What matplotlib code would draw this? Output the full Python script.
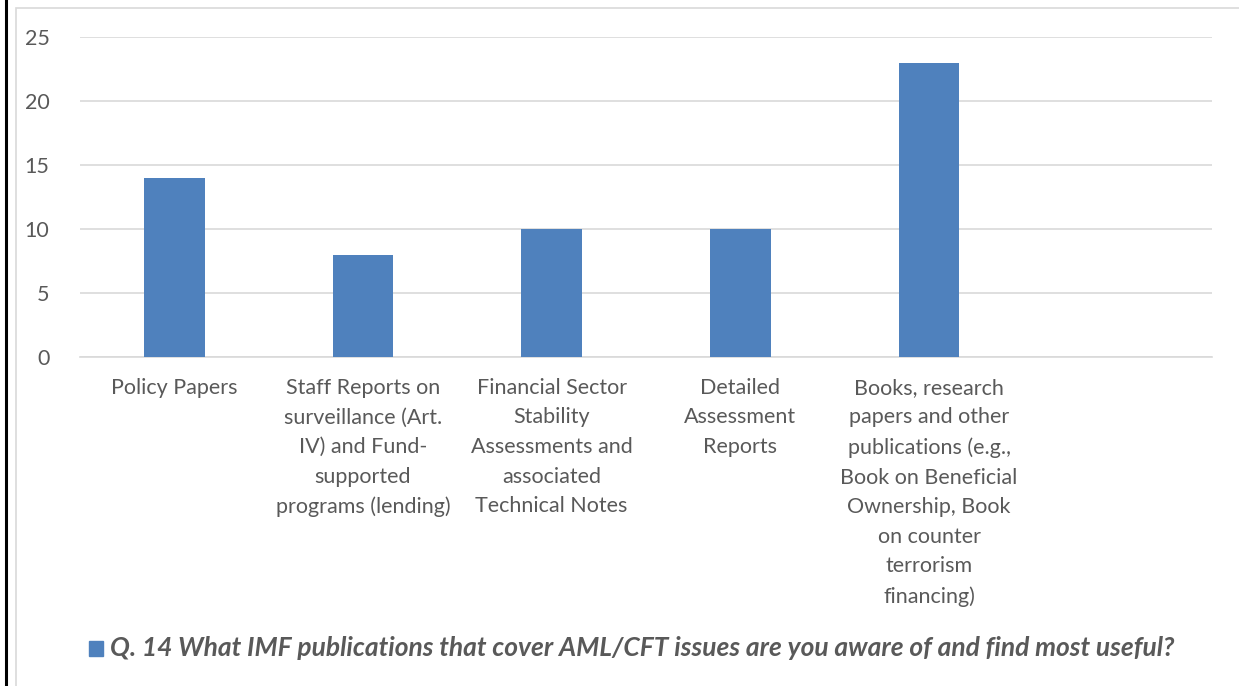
import matplotlib
matplotlib.use("Agg")
import matplotlib.pyplot as plt
from matplotlib.patches import Rectangle
from matplotlib.lines import Line2D

categories = [
    "Policy Papers",
    "Staff Reports on\nsurveillance (Art.\nIV) and Fund-\nsupported\nprograms (lending)",
    "Financial Sector\nStability\nAssessments and\nassociated\nTechnical Notes",
    "Detailed\nAssessment\nReports",
    "Books, research\npapers and other\npublications (e.g.,\nBook on Beneficial\nOwnership, Book\non counter\nterrorism\nfinancing)",
    "",
]
values = [14, 8, 10, 10, 23, 0]
yticks = [0, 5, 10, 15, 20, 25]
series_name = "Q. 14 What IMF publications that cover AML/CFT issues are you aware of and find most useful?"

plt.rcParams['font.family'] = ['Lato', 'DejaVu Sans']
W, H = 1239, 686
fig = plt.figure(figsize=(W/100, H/100), dpi=100)

# outer frame lines
fig.add_artist(Line2D([5.5/W, 5.5/W], [0, 1], color='black', lw=2.2, transform=fig.transFigure))
fig.add_artist(Rectangle((16/W, -0.1), 1.2, 1 - 8/H + 0.1, fill=False, edgecolor='#D9D9D9', lw=1.2, transform=fig.transFigure))

ax = fig.add_axes([80/W, 1 - 357/H, (1212-80)/W, (357-37)/H])
x = list(range(len(categories)))
ax.bar(x[:5], values[:5], width=0.32, color='#4F81BD', zorder=3)
ax.set_xlim(-0.5, len(categories) - 0.5)
ax.set_ylim(0, 25)
ax.set_yticks(yticks)
ax.set_yticklabels([str(v) for v in yticks], fontsize=15.5, color='#595959')
ax.tick_params(axis='y', length=0, pad=22)
ax.tick_params(axis='x', length=0, pad=15)
ax.set_xticks(x)
ax.set_xticklabels(categories, fontsize=15.5, color='#595959', linespacing=1.6, va='top', ha='center')
ax.grid(axis='y', color='#D9D9D9', lw=1.2, zorder=0)
for s in ['top', 'right', 'left']:
    ax.spines[s].set_visible(False)
ax.spines['bottom'].set_color('#D9D9D9')
ax.spines['bottom'].set_linewidth(1.2)

# legend
fig.add_artist(Rectangle((89/W, 1 - 656/H), 14/W, 15/H, color='#4F81BD', transform=fig.transFigure))
fig.text(110/W, 1 - 648/H, series_name, fontsize=19, fontweight='bold', fontstyle='italic',
         color='#595959', va='center', ha='left')

fig.savefig("out.png", dpi=100, facecolor='white')
